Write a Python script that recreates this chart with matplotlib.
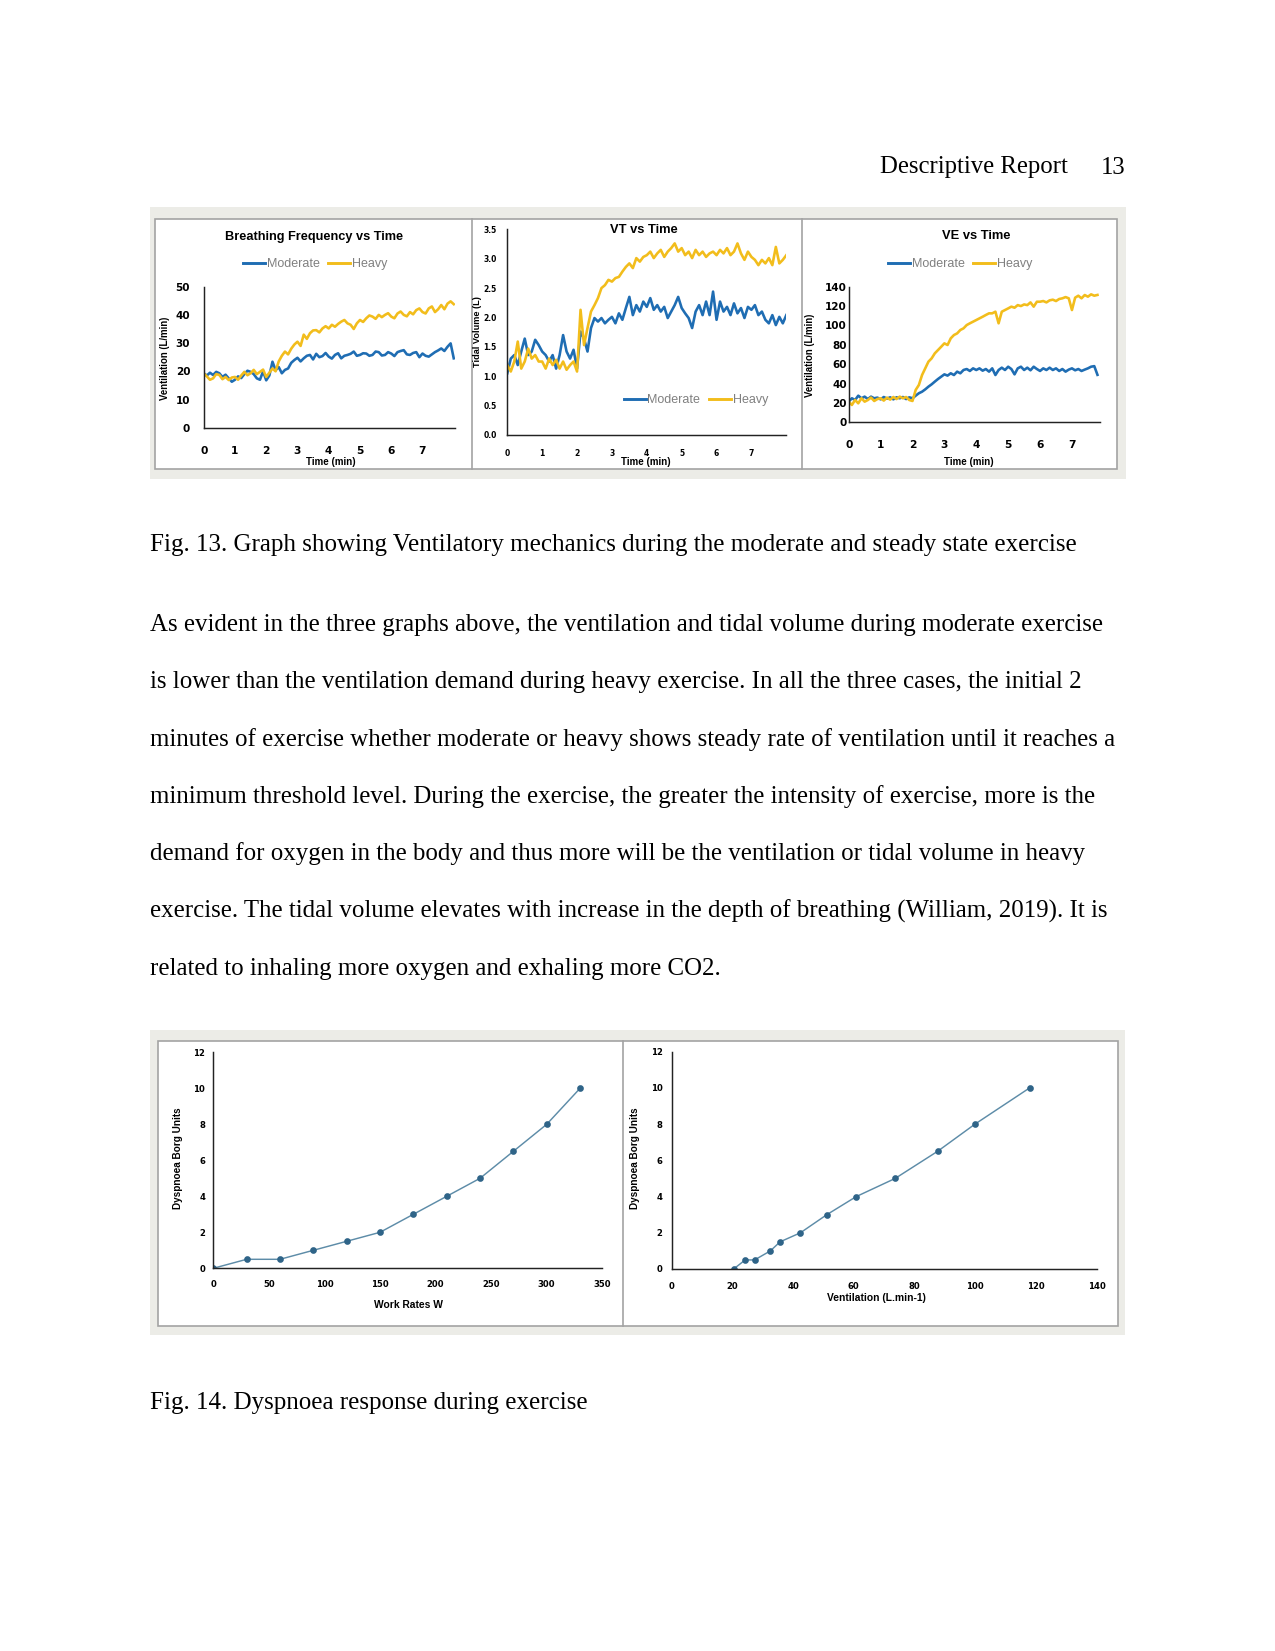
import numpy as np
import matplotlib
matplotlib.use("Agg")
import matplotlib.pyplot as plt
from matplotlib.patches import Rectangle
from matplotlib.lines import Line2D

# ---------------- data ----------------
# Breathing frequency vs time (sampled every 0.1 min)
bf_moderate = [19.3, 18.5, 19.5, 18.7, 19.8, 19.3, 18.0, 18.8, 17.5, 16.3,
               17.0, 18.2, 17.6, 19.0, 20.2, 19.8, 19.0, 17.5, 17.0, 20.0,
               16.8, 18.5, 23.4, 20.4, 21.5, 19.3, 20.5, 21.0, 23.0, 24.0,
               24.8, 23.5, 24.6, 25.5, 25.8, 24.2, 26.2, 25.0, 25.4, 26.5,
               25.2, 24.5, 25.8, 26.4, 24.6, 25.5, 25.8, 26.2, 27.0, 25.5,
               25.8, 26.4, 26.3, 25.5, 25.8, 27.0, 26.8, 25.6, 25.8, 26.8,
               26.3, 25.4, 26.8, 27.2, 27.5, 26.0, 25.8, 26.5, 26.8, 25.0,
               26.3, 25.5, 25.2, 26.0, 26.8, 27.4, 28.1, 27.2, 28.7, 29.9,
               24.6]
bf_heavy = [19.3, 18.2, 17.0, 17.5, 19.0, 18.7, 17.2, 18.0, 16.9, 17.8,
            18.0, 17.0, 18.5, 19.8, 18.6, 19.3, 20.5, 19.0, 19.8, 20.6,
            18.0, 19.5, 21.0, 20.0, 23.5, 25.5, 27.0, 26.0, 28.0, 29.5,
            30.5, 29.0, 33.0, 31.5, 33.5, 34.5, 34.6, 33.8, 35.2, 36.0,
            35.2, 36.5, 35.8, 36.8, 37.6, 38.2, 37.0, 36.5, 35.0, 37.0,
            38.2, 37.5, 38.8, 39.8, 39.4, 38.6, 40.0, 39.2, 40.0, 40.6,
            39.4, 38.8, 40.5, 41.2, 40.0, 39.5, 41.0, 40.2, 41.7, 42.3,
            41.0, 40.5, 42.3, 43.0, 41.0, 42.0, 43.5, 42.0, 44.0, 44.8,
            43.8]

# Tidal volume vs time
vt_moderate = [1.05, 1.30, 1.36, 1.19, 1.42, 1.64, 1.36, 1.42, 1.62, 1.53,
               1.42, 1.36, 1.25, 1.36, 1.13, 1.36, 1.70, 1.42, 1.30, 1.45,
               1.13, 1.76, 1.64, 1.42, 1.82, 1.99, 1.93, 1.99, 1.90, 1.96,
               2.01, 1.90, 2.07, 1.96, 2.16, 2.35, 2.04, 2.21, 2.10, 2.27,
               2.18, 2.33, 2.13, 2.21, 2.10, 2.18, 1.99, 2.10, 2.21, 2.35,
               2.16, 2.07, 1.99, 1.82, 2.10, 2.21, 2.04, 2.27, 2.04, 2.44,
               1.96, 2.27, 2.10, 2.18, 2.04, 2.24, 2.07, 2.16, 1.99, 2.18,
               2.13, 2.21, 2.04, 2.10, 1.96, 1.90, 2.04, 1.87, 2.01, 1.90,
               2.04]
vt_heavy = [1.19, 1.08, 1.25, 1.59, 1.13, 1.25, 1.47, 1.30, 1.36, 1.25,
            1.25, 1.13, 1.30, 1.19, 1.28, 1.13, 1.25, 1.11, 1.19, 1.25,
            1.08, 2.13, 1.53, 1.82, 2.10, 2.21, 2.33, 2.50, 2.55, 2.64,
            2.61, 2.67, 2.69, 2.78, 2.86, 2.92, 2.84, 3.01, 2.95, 3.03,
            3.06, 3.12, 3.01, 3.09, 3.15, 3.03, 3.12, 3.18, 3.26, 3.12,
            3.18, 3.06, 3.12, 3.01, 3.15, 3.06, 3.12, 3.03, 3.09, 3.12,
            3.06, 3.15, 3.09, 3.18, 3.06, 3.12, 3.26, 3.09, 2.98, 3.12,
            3.03, 2.98, 2.89, 2.98, 2.92, 3.01, 2.89, 3.20, 2.92, 2.98,
            3.06]

# Minute ventilation vs time
ve_moderate = [21.3, 24.8, 23.0, 27.5, 24.8, 26.5, 24.0, 26.5, 24.8, 25.5,
               23.7, 26.1, 24.4, 25.8, 23.7, 25.8, 24.8, 26.1, 24.0, 25.8,
               24.8, 27.5, 30.0, 31.6, 34.0, 36.8, 39.2, 42.0, 44.7, 47.1,
               49.5, 48.2, 50.6, 48.8, 52.3, 50.6, 54.0, 55.0, 53.0, 55.7,
               54.0, 55.7, 53.3, 55.0, 52.3, 55.7, 48.8, 54.0, 56.4, 54.0,
               57.4, 55.0, 49.5, 55.7, 57.4, 54.0, 56.4, 53.7, 57.4, 55.0,
               53.0, 55.7, 54.0, 56.4, 54.0, 55.7, 53.0, 55.0, 52.3, 54.4,
               55.7, 53.7, 55.0, 53.0, 54.4, 55.7, 57.4, 58.0, 49.0]
ve_heavy = [21.3, 17.9, 23.0, 19.6, 24.8, 21.3, 23.0, 25.5, 22.0, 24.0,
            24.8, 22.4, 25.5, 23.4, 26.1, 24.0, 26.5, 24.8, 26.1, 23.0,
            22.0, 33.4, 38.5, 48.8, 55.7, 62.6, 66.0, 71.2, 74.6, 78.0,
            81.5, 79.8, 86.7, 90.1, 91.8, 95.3, 97.0, 100.4, 102.2, 103.9,
            105.6, 107.3, 109.0, 110.8, 112.5, 112.5, 114.2, 102.2, 114.2, 115.9,
            117.6, 119.4, 118.3, 121.0, 120.0, 121.7, 121.0, 123.8, 119.4, 124.5,
            124.5, 125.2, 123.8, 125.9, 126.6, 125.2, 127.3, 128.0, 129.3, 128.0,
            115.9, 128.7, 130.7, 128.0, 131.4, 129.7, 132.1, 130.7, 131.5]

SAMPLE_STEP = 0.1  # minutes between samples
time_ticks = [0, 1, 2, 3, 4, 5, 6, 7]

# Dyspnoea
work_rate = [0, 30, 60, 90, 120, 150, 180, 210, 240, 270, 300, 330]
ventilation = [20.4, 24.2, 27.3, 32.5, 35.7, 42.4, 51.1, 60.8, 73.6, 87.6, 99.9, 117.9]
borg = [0, 0.5, 0.5, 1, 1.5, 2, 3, 4, 5, 6.5, 8, 10]

# ---------------- figure ----------------
W, H = 1275, 1651
DPI = 150
fig = plt.figure(figsize=(W / DPI, H / DPI), dpi=DPI)
fig.patch.set_facecolor('white')

BLUE = '#1f6db3'
YELLOW = '#f2bd1c'
GREYBOX = '#ecece7'
FRAME = '#a3a3a3'
SERIF = 'Liberation Serif'
SANS = 'Liberation Sans'
TICKF = 'DejaVu Sans'


def fx(x):
    return x / W


def fy(y):
    return 1 - y / H


def add_rect(x0, y0, x1, y1, **kw):
    fig.add_artist(Rectangle((fx(x0), fy(y1)), (x1 - x0) / W, (y1 - y0) / H,
                             transform=fig.transFigure, **kw))


def add_vline(x, y0, y1, **kw):
    fig.add_artist(Line2D([fx(x), fx(x)], [fy(y0), fy(y1)],
                          transform=fig.transFigure, **kw))


def axes_px(l, t, r, b):
    ax = fig.add_axes([fx(l), fy(b), (r - l) / W, (b - t) / H])
    ax.set_facecolor('none')
    for s in ['top', 'right']:
        ax.spines[s].set_visible(False)
    for s in ['left', 'bottom']:
        ax.spines[s].set_color('#222222')
        ax.spines[s].set_linewidth(0.7)
    ax.tick_params(length=0)
    return ax


def ftext(x, y, s, **kw):
    fig.text(fx(x), fy(y), s, **kw)


# ---- page text ----
ftext(1068, 173.5, 'Descriptive Report', family=SERIF, fontsize=11.9, ha='right', va='baseline')
ftext(1125, 173.5, '13', family=SERIF, fontsize=11.9, ha='right', va='baseline')

ftext(150, 551.5, 'Fig. 13. Graph showing Ventilatory mechanics during the moderate and steady state exercise',
      family=SERIF, fontsize=12, ha='left', va='baseline')

para = [
    'As evident in the three graphs above, the ventilation and tidal volume during moderate exercise',
    'is lower than the ventilation demand during heavy exercise. In all the three cases, the initial 2',
    'minutes of exercise whether moderate or heavy shows steady rate of ventilation until it reaches a',
    'minimum threshold level. During the exercise, the greater the intensity of exercise, more is the',
    'demand for oxygen in the body and thus more will be the ventilation or tidal volume in heavy',
    'exercise. The tidal volume elevates with increase in the depth of breathing (William, 2019). It is',
    'related to inhaling more oxygen and exhaling more CO2.',
]
for i, line in enumerate(para):
    ftext(150, 630.8 + i * 57.4, line, family=SERIF, fontsize=11.95, ha='left', va='baseline')

ftext(150, 1408.5, 'Fig. 14. Dyspnoea response during exercise', family=SERIF, fontsize=12,
      ha='left', va='baseline')

# ---- top picture frame ----
add_rect(150, 206.5, 1126, 479, facecolor=GREYBOX, edgecolor='none', zorder=-3)
add_rect(155.3, 219, 1116.7, 469.3, facecolor='white', edgecolor=FRAME, linewidth=0.8, zorder=-2)
add_vline(471.7, 219, 469.3, color=FRAME, linewidth=0.8, zorder=-1)
add_vline(802.3, 219, 469.3, color=FRAME, linewidth=0.8, zorder=-1)

# ---- bottom picture frame ----
add_rect(150, 1030, 1125, 1335, facecolor=GREYBOX, edgecolor='none', zorder=-3)
add_rect(158.3, 1040.5, 1118.3, 1326, facecolor='white', edgecolor=FRAME, linewidth=0.8, zorder=-2)
add_vline(623.3, 1040.5, 1326, color=FRAME, linewidth=0.8, zorder=-1)


def times(vals):
    return np.arange(len(vals)) * SAMPLE_STEP


def legend(ax, x, y):
    h = [Line2D([], [], color=BLUE, lw=1.4), Line2D([], [], color=YELLOW, lw=1.4)]
    ax.legend(h, ['Moderate', 'Heavy'], loc='center', bbox_to_anchor=(fx(x), fy(y)),
              bbox_transform=fig.transFigure, ncol=2, frameon=False,
              prop={'family': SANS, 'size': 6}, labelcolor='#808080',
              handlelength=1.75, handletextpad=0.15, columnspacing=0.7,
              borderpad=0, borderaxespad=0)


LW = 1.25

# ---- Chart 1: Breathing Frequency ----
ax1 = axes_px(203.7, 286.7, 455, 427.7)
ax1.plot(times(bf_moderate), bf_moderate, color=BLUE, lw=LW)
ax1.plot(times(bf_heavy), bf_heavy, color=YELLOW, lw=LW)
ax1.set_xlim(0, 8.04)
ax1.set_ylim(0, 50)
ax1.set_xticks(time_ticks)
ax1.set_xticklabels([str(t) for t in time_ticks], family=TICKF, fontweight='bold', fontsize=5.1)
ax1.set_yticks([0, 10, 20, 30, 40, 50])
ax1.set_yticklabels(['0', '10', '20', '30', '40', '50'], family=TICKF, fontweight='bold', fontsize=5.0)
ax1.tick_params(axis='x', pad=9.0)
ax1.tick_params(axis='y', pad=6.5)
ftext(313.7, 236.7, 'Breathing Frequency vs Time', family=SANS, fontweight='bold', fontsize=6.1,
      ha='center', va='center')
legend(ax1, 315, 264)
ftext(330.7, 461.7, 'Time (min)', family=SANS, fontweight='bold', fontsize=4.7, ha='center', va='center')
ftext(164.7, 358, 'Ventilation (L/min)', family=SANS, fontweight='bold', fontsize=4.6,
      ha='center', va='center', rotation=90)

# ---- Chart 2: Tidal Volume ----
ax2 = axes_px(507.3, 229.3, 786.3, 435)
ax2.plot(times(vt_moderate), vt_moderate, color=BLUE, lw=LW)
ax2.plot(times(vt_heavy), vt_heavy, color=YELLOW, lw=LW)
ax2.set_xlim(0, 8)
ax2.set_ylim(0, 3.5)
ax2.set_xticks(time_ticks)
ax2.set_xticklabels([str(t) for t in time_ticks], family=TICKF, fontweight='bold', fontsize=3.7)
vt_ticks = [0.0, 0.5, 1.0, 1.5, 2.0, 2.5, 3.0, 3.5]
ax2.set_yticks(vt_ticks)
ax2.set_yticklabels([f'{v:.1f}' for v in vt_ticks], family=TICKF, fontweight='bold', fontsize=3.7)
ax2.tick_params(axis='x', pad=6.8)
ax2.tick_params(axis='y', pad=5.0)
ftext(644, 230, 'VT vs Time', family=SANS, fontweight='bold', fontsize=6.2, ha='center', va='center')
legend(ax2, 696, 400)
ftext(646, 461.7, 'Time (min)', family=SANS, fontweight='bold', fontsize=4.7, ha='center', va='center')
ftext(478, 331.7, 'Tidal Volume (L)', family=SANS, fontweight='bold', fontsize=4.4,
      ha='center', va='center', rotation=90)

# ---- Chart 3: VE ----
ax3 = axes_px(848.7, 286.7, 1099.7, 422.3)
ax3.plot(times(ve_moderate), ve_moderate, color=BLUE, lw=LW)
ax3.plot(times(ve_heavy), ve_heavy, color=YELLOW, lw=LW)
ax3.set_xlim(0, 7.87)
ax3.set_ylim(0, 140)
ax3.set_xticks(time_ticks)
ax3.set_xticklabels([str(t) for t in time_ticks], family=TICKF, fontweight='bold', fontsize=5.1)
ve_ticks = [0, 20, 40, 60, 80, 100, 120, 140]
ax3.set_yticks(ve_ticks)
ax3.set_yticklabels([str(v) for v in ve_ticks], family=TICKF, fontweight='bold', fontsize=5.0)
ax3.tick_params(axis='x', pad=8.5)
ax3.tick_params(axis='y', pad=0.8)
ftext(976, 235.7, 'VE vs Time', family=SANS, fontweight='bold', fontsize=6.2, ha='center', va='center')
legend(ax3, 960.3, 264)
ftext(968.7, 461.7, 'Time (min)', family=SANS, fontweight='bold', fontsize=4.7, ha='center', va='center')
ftext(809.7, 355, 'Ventilation (L/min)', family=SANS, fontweight='bold', fontsize=4.6,
      ha='center', va='center', rotation=90)

# ---- Dyspnoea charts ----
LINEC = '#5d8ca8'
MARKC = '#2f6488'

ax4 = axes_px(213.3, 1052.3, 602.3, 1268.3)
ax4.plot(work_rate, borg, color=LINEC, lw=0.7, marker='o', markersize=2.2,
         markerfacecolor=MARKC, markeredgecolor=MARKC)
ax4.set_xlim(0, 350)
ax4.set_ylim(0, 12)
wr_ticks = [0, 50, 100, 150, 200, 250, 300, 350]
ax4.set_xticks(wr_ticks)
ax4.set_xticklabels([str(v) for v in wr_ticks], family=TICKF, fontweight='bold', fontsize=4.1)
borg_ticks = [0, 2, 4, 6, 8, 10, 12]
ax4.set_yticks(borg_ticks)
ax4.set_yticklabels([str(v) for v in borg_ticks], family=TICKF, fontweight='bold', fontsize=4.1)
ax4.tick_params(axis='x', pad=5.8)
ax4.tick_params(axis='y', pad=3.9)
ftext(408.3, 1305, 'Work Rates W', family=SANS, fontweight='bold', fontsize=4.9, ha='center', va='center')
ftext(178.3, 1158, 'Dyspnoea Borg Units', family=SANS, fontweight='bold', fontsize=4.8,
      ha='center', va='center', rotation=90)

ax5 = axes_px(671.7, 1051.7, 1096.7, 1269)
ax5.plot(ventilation, borg, color=LINEC, lw=0.7, marker='o', markersize=2.2,
         markerfacecolor=MARKC, markeredgecolor=MARKC)
ax5.set_xlim(0, 140)
ax5.set_ylim(0, 12)
v_ticks = [0, 20, 40, 60, 80, 100, 120, 140]
ax5.set_xticks(v_ticks)
ax5.set_xticklabels([str(v) for v in v_ticks], family=TICKF, fontweight='bold', fontsize=4.1)
ax5.set_yticks(borg_ticks)
ax5.set_yticklabels([str(v) for v in borg_ticks], family=TICKF, fontweight='bold', fontsize=4.1)
ax5.tick_params(axis='x', pad=6.2)
ax5.tick_params(axis='y', pad=4.3)
ftext(876, 1298.3, 'Ventilation (L.min-1)', family=SANS, fontweight='bold', fontsize=4.9,
      ha='center', va='center')
ftext(635, 1158, 'Dyspnoea Borg Units', family=SANS, fontweight='bold', fontsize=4.8,
      ha='center', va='center', rotation=90)

fig.savefig('out.png', dpi=DPI, facecolor='white')
